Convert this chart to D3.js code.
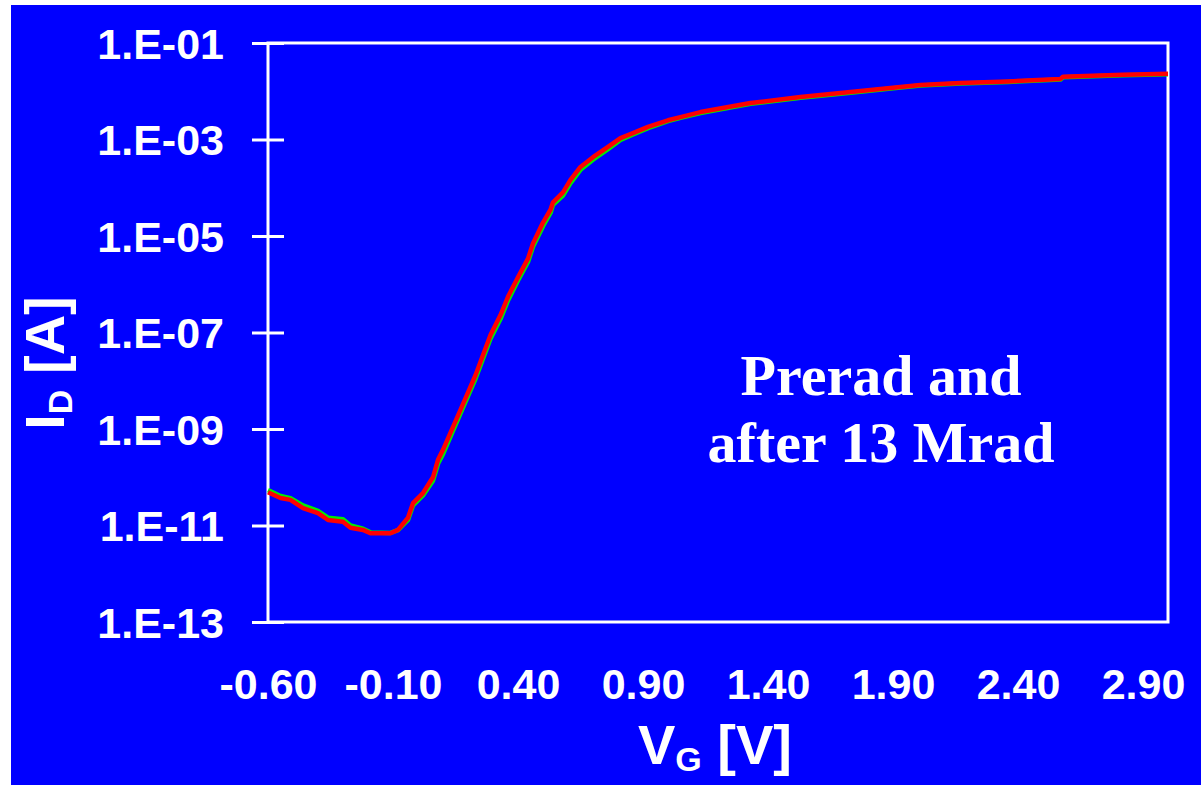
<!DOCTYPE html>
<html>
<head>
<meta charset="utf-8">
<script src="https://cdn.jsdelivr.net/npm/d3@7"></script>
<style>
  body { margin: 0; background: #fff; }
  svg { display: block; }
</style>
</head>
<body>
<svg id="chart" width="1201" height="785"></svg>
<script>
// gate voltage [V]
var vg = [-0.60,-0.55,-0.51,-0.46,-0.40,-0.36,-0.30,-0.27,-0.22,-0.19,-0.11,-0.08,-0.04,-0.02,0.02,0.06,0.08,0.10,
  0.17,0.23,0.29,0.33,0.36,0.40,0.44,0.46,0.50,0.53,0.54,0.58,0.61,0.65,0.70,0.76,0.81,0.86,0.92,1.00,1.05,1.13,
  1.33,1.53,1.73,1.93,2.01,2.17,2.36,2.57,2.58,2.82,3.00];

// drain current [A], prerad (green)
var idPre = [5.4e-11,4.1e-11,3.7e-11,2.6e-11,2.0e-11,1.45e-11,1.35e-11,1.0e-11,8.6e-12,7.2e-12,7.0e-12,8.0e-12,1.3e-11,2.6e-11,
  4.2e-11,8.5e-11,1.9e-10,3.0e-10,2.1e-9,1.1e-8,7.4e-8,1.9e-7,4.6e-7,1.2e-6,2.9e-6,6.0e-6,1.6e-5,3.0e-5,4.4e-5,6.9e-5,
  1.25e-4,2.35e-4,3.8e-4,6.3e-4,9.8e-4,1.27e-3,1.72e-3,2.4e-3,2.8e-3,3.55e-3,5.5e-3,7.3e-3,9.3e-3,1.19e-2,1.31e-2,
  1.44e-2,1.56e-2,1.75e-2,1.95e-2,2.15e-2,2.25e-2];

// drain current [A], after 13 Mrad (red)
var idPost = [4.9e-11,3.7e-11,3.4e-11,2.3e-11,1.8e-11,1.3e-11,1.2e-11,9.0e-12,8.1e-12,6.9e-12,6.9e-12,8.1e-12,1.45e-11,2.9e-11,
  4.7e-11,1.0e-10,2.3e-10,3.7e-10,2.5e-9,1.3e-8,8.9e-8,2.3e-7,5.5e-7,1.4e-6,3.4e-6,7.0e-6,1.9e-5,3.5e-5,5.0e-5,8.0e-5,
  1.45e-4,2.7e-4,4.3e-4,7.0e-4,1.07e-3,1.36e-3,1.82e-3,2.5e-3,2.9e-3,3.7e-3,5.7e-3,7.6e-3,9.6e-3,1.23e-2,1.35e-2,
  1.48e-2,1.6e-2,1.8e-2,2.0e-2,2.2e-2,2.3e-2];

var xTicks = [-0.6,-0.1,0.4,0.9,1.4,1.9,2.4,2.9];
var xTickLabels = ["-0.60","-0.10","0.40","0.90","1.40","1.90","2.40","2.90"];
var yTicks = [1e-13,1e-11,1e-9,1e-7,1e-5,1e-3,1e-1];
var yTickLabels = ["1.E-13","1.E-11","1.E-09","1.E-07","1.E-05","1.E-03","1.E-01"];

var svg = d3.select("#chart"),
    margin = {top: 43, right: 33, bottom: 163, left: 268},
    width = 1201 - margin.left - margin.right,
    height = 785 - margin.top - margin.bottom;

// blue slide background
svg.append("rect")
    .attr("x", 11).attr("y", 5)
    .attr("width", 1201 - 11).attr("height", 785 - 5)
    .attr("fill", "#0000ff");

var g = svg.append("g").attr("transform", "translate(" + margin.left + "," + margin.top + ")");

var x = d3.scaleLinear().domain([-0.6, 3.0]).range([0, width]),
    y = d3.scaleLog().domain([1e-13, 1e-1]).range([height, 0]);

var sansBold = "'Liberation Sans', Arial, Helvetica, sans-serif";

// x axis: labels only
var xAxis = g.append("g")
    .attr("transform", "translate(0," + height + ")")
    .call(d3.axisBottom(x).tickValues(xTicks).tickSize(0).tickPadding(46)
      .tickFormat(function(d, i) { return xTickLabels[i]; }));
xAxis.select(".domain").remove();
xAxis.selectAll("text")
    .attr("fill", "#fff")
    .style("font-family", sansBold)
    .style("font-weight", "bold")
    .style("font-size", "43px");

// y axis: cross ticks
var yAxis = g.append("g")
    .call(d3.axisLeft(y).tickValues(yTicks).tickSize(16).tickPadding(28)
      .tickFormat(function(d, i) { return yTickLabels[i]; }));
yAxis.select(".domain").remove();
yAxis.selectAll(".tick line")
    .attr("x1", 16)
    .attr("stroke", "#fff")
    .attr("stroke-width", 3);
yAxis.selectAll("text")
    .attr("fill", "#fff")
    .attr("dy", "0.35em")
    .style("font-family", sansBold)
    .style("font-weight", "bold")
    .style("font-size", "43px");

// plot frame
g.append("rect")
    .attr("width", width).attr("height", height)
    .attr("fill", "none")
    .attr("stroke", "#fff")
    .attr("stroke-width", 3);

var line = d3.line()
    .x(function(d) { return x(d[0]); })
    .y(function(d) { return y(d[1]); });

var series = [
  {id: "prerad", color: "#00ee00", values: d3.zip(vg, idPre)},
  {id: "13Mrad", color: "#ff0000", values: d3.zip(vg, idPost)}
];

g.selectAll(".curve")
    .data(series)
    .enter().append("path")
      .attr("class", "curve")
      .attr("fill", "none")
      .attr("stroke", function(d) { return d.color; })
      .attr("stroke-width", 4.5)
      .attr("stroke-linejoin", "round")
      .attr("d", function(d) { return line(d.values); });

// axis titles
var xTitle = svg.append("text")
    .attr("x", 715).attr("y", 764)
    .attr("text-anchor", "middle")
    .attr("fill", "#fff")
    .style("font-family", sansBold)
    .style("font-weight", "bold")
    .style("font-size", "56px");
xTitle.append("tspan").text("V");
xTitle.append("tspan").attr("dy", 7).style("font-size", "34px").text("G");
xTitle.append("tspan").attr("dy", -7).text(" [V]");

var yTitle = svg.append("text")
    .attr("transform", "translate(64,363) rotate(-90)")
    .attr("text-anchor", "middle")
    .attr("fill", "#fff")
    .style("font-family", sansBold)
    .style("font-weight", "bold")
    .style("font-size", "56px");
yTitle.append("tspan").text("I");
yTitle.append("tspan").attr("dy", 8).style("font-size", "34px").text("D");
yTitle.append("tspan").attr("dy", -8).text(" [A]");

// annotation
var note = svg.append("text")
    .attr("text-anchor", "middle")
    .attr("fill", "#fff")
    .style("font-family", "'Liberation Serif', 'Times New Roman', serif")
    .style("font-weight", "bold")
    .style("font-size", "58px");
note.append("tspan").attr("x", 881).attr("y", 395).text("Prerad and");
note.append("tspan").attr("x", 881).attr("y", 462).text("after 13 Mrad");
</script>
</body>
</html>
